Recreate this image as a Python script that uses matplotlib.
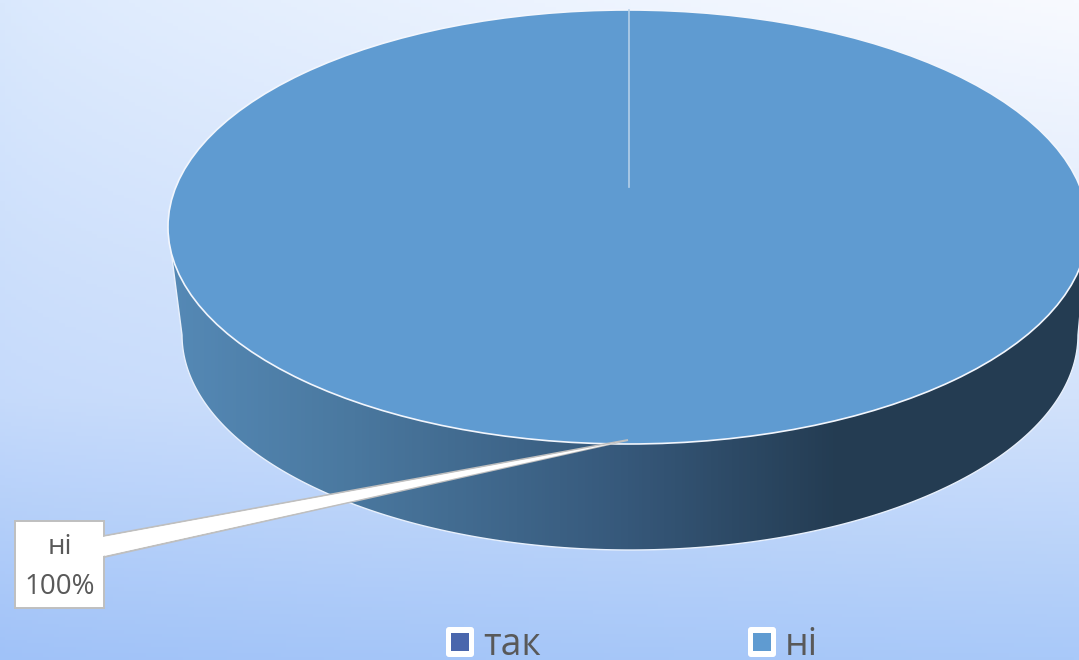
import numpy as np
import matplotlib.pyplot as plt
from matplotlib.colors import LinearSegmentedColormap, to_rgb
from matplotlib.patches import Ellipse, FancyBboxPatch, PathPatch, Polygon, Rectangle
from matplotlib.path import Path

categories = ['так', 'ні']
values = [0, 100]
colors = ['#4a66ac', '#5f9bd1']
callout_label = 'ні\n100%'

plt.rcParams['font.family'] = ['Open Sans', 'DejaVu Sans']
W, H = 1079, 660

fig = plt.figure(figsize=(W / 100, H / 100), dpi=100)
ax = fig.add_axes([0, 0, 1, 1])
ax.set_xlim(0, W)
ax.set_ylim(H, 0)
ax.axis('off')

# background gradient, lightest in the top right corner
bg_y = [0, 400, 660]
left_col = np.array([to_rgb(c) for c in ['#d9e8fd', '#c5dafb', '#a0c2f8']])
right_col = np.array([to_rgb(c) for c in ['#f8faff', '#d2e2fb', '#a9c9f9']])
yy = np.linspace(0, H, 200)
xx = np.linspace(0, 1, 200) ** 0.7
bg = np.zeros((200, 200, 3))
for i in range(3):
    l = np.interp(yy, bg_y, left_col[:, i])
    r = np.interp(yy, bg_y, right_col[:, i])
    bg[:, :, i] = l[:, None] * (1 - xx) + r[:, None] * xx
ax.imshow(bg, extent=[0, W, H, 0], aspect='auto', zorder=0)

# side of the pie
cx, cy, rx, ry = 628, 227, 460, 217
bx, by, brx, bry = 630, 335, 448, 215
t = np.linspace(np.pi, 0, 200)
side = [(cx - rx, cy)] + list(zip(bx + brx * np.cos(t), by + bry * np.sin(t))) + [(cx + rx, cy)]
side_path = Path(side + [side[0]], closed=True)
side_stops = [(0, '#5589b6'), (0.2, '#4a789f'), (0.5, '#36587a'), (0.73, '#243c52'), (1, '#243c52')]
side_cmap = LinearSegmentedColormap.from_list('side', side_stops)
side_im = ax.imshow(np.linspace(0, 1, 256)[None, :], cmap=side_cmap, extent=[168, 1088, 550, 227], aspect='auto', zorder=1)
side_patch = PathPatch(side_path, fc='none', ec='#e8f0fc', lw=1, zorder=2)
ax.add_patch(side_patch)
side_im.set_clip_path(side_patch)
ax.set_xlim(0, W)
ax.set_ylim(H, 0)

# top of the pie, stretched into an ellipse by its axes
pie_ax = fig.add_axes([(cx - rx) / W, 1 - (cy + ry) / H, 2 * rx / W, 2 * ry / H])
pie_ax.set_zorder(2)
pie_ax.pie(values, colors=colors, startangle=90, counterclock=False, radius=1,
           wedgeprops={'linewidth': 0})
pie_ax.set_aspect('auto')
pie_ax.set_xlim(-1, 1)
pie_ax.set_ylim(-1, 1)
pie_ax.axis('off')

# everything on top of the pie
top = fig.add_axes([0, 0, 1, 1])
top.set_zorder(3)
top.patch.set_alpha(0)
top.set_xlim(0, W)
top.set_ylim(H, 0)
top.axis('off')
top.add_patch(Ellipse((cx, cy), 2 * rx, 2 * ry, fc='none', ec='#f2f6fd', lw=1.2))
top.plot([628.5, 628.5], [10, 187], color='#b4cfe8', lw=1.2)

# callout
top.add_patch(Polygon([(104, 536), (628, 440), (104, 557)], fc='white', ec='#bfbfbf', lw=1.4))
top.add_patch(Rectangle((15, 521), 89, 87, fc='white', ec='#bfbfbf', lw=1.4))
top.add_patch(Polygon([(103, 537), (620, 442), (103, 556)], fc='white', ec='none'))
line1, line2 = callout_label.split('\n')
top.text(60, 547, line1, fontsize=20, color='#595959', ha='center', va='center')
top.text(60, 587, line2, fontsize=20, color='#595959', ha='center', va='center')

# legend
for x, name, col in zip([446, 748], categories, colors):
    top.add_patch(FancyBboxPatch((x + 2, 629), 24, 26, boxstyle='round,pad=2,rounding_size=3', fc='white', ec='none'))
    top.add_patch(Rectangle((x + 5, 633), 18, 18, fc=col, ec='none'))
    top.text(x + 37, 655, name, fontsize=27, color='#595959', ha='left', va='baseline')

fig.savefig('out.png', dpi=100)
